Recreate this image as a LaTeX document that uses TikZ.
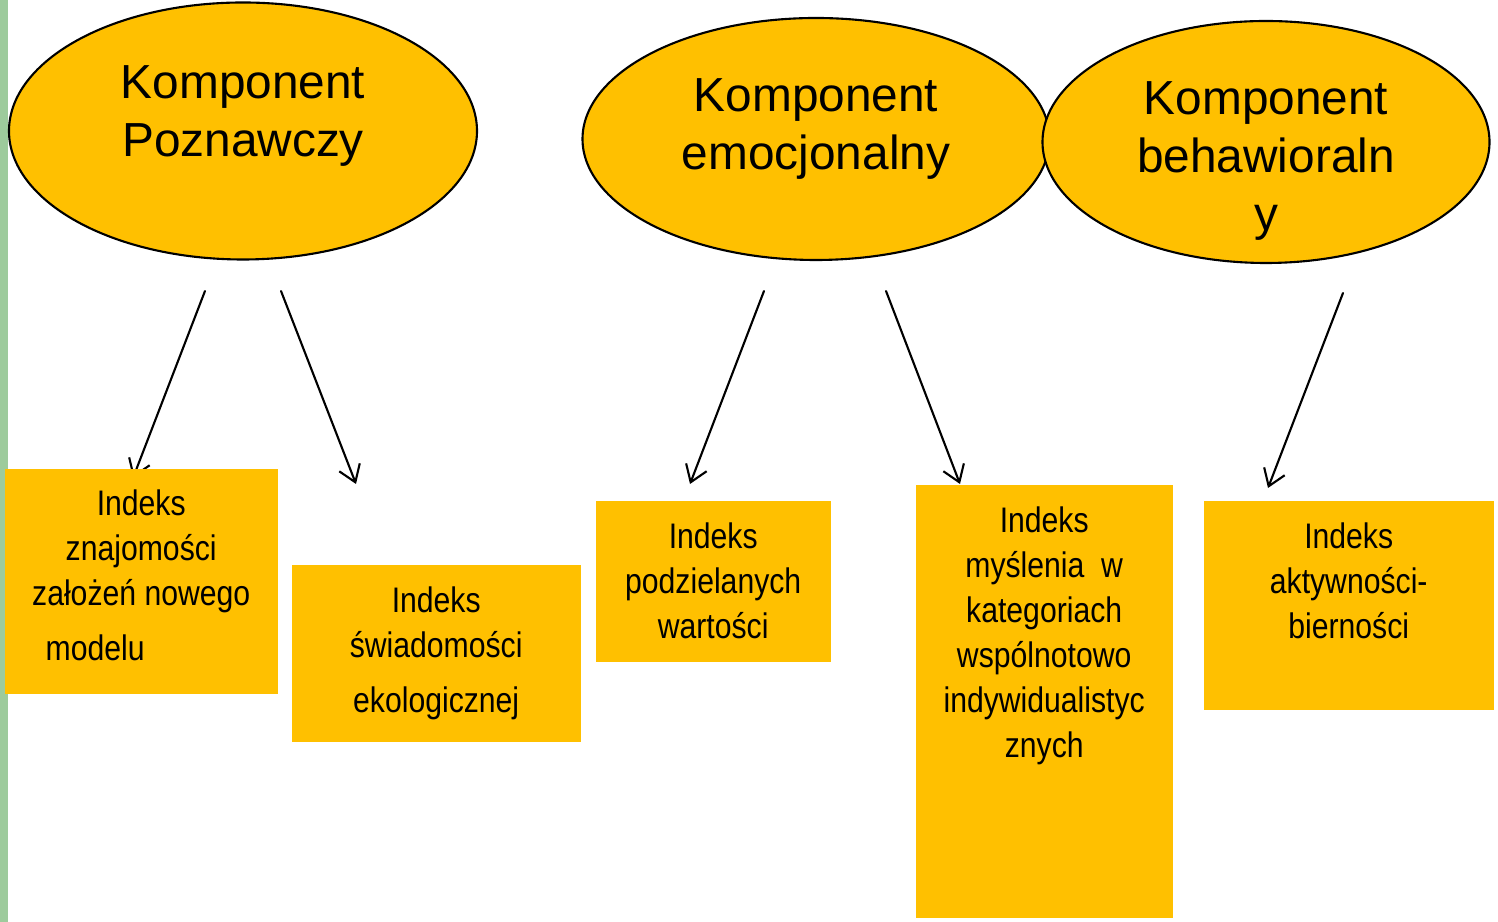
\documentclass[tikz,border=0pt]{standalone}
\usepackage{fontspec}
\setmainfont{Liberation Sans}
\newfontfamily\narrowfont[FakeStretch=0.85]{Liberation Sans}
\usetikzlibrary{positioning,shapes.geometric,arrows.meta,calc}
\definecolor{zloty}{HTML}{FFC000}
\definecolor{pasek}{HTML}{9DCB9C}
\begin{document}
\begin{tikzpicture}[line join=round,line cap=round,>={Straight Barb[length=0.16cm,width=0.22cm]},
	komp/.style={ellipse,draw=black,line width=0.6pt,fill=zloty,inner sep=0pt},
	komptxt/.style={align=center,inner sep=0pt,font=\fontsize{13.6}{16.5}\selectfont},
	indeks/.style={rectangle,fill=zloty,inner sep=0pt,anchor=north west},
	indtxt/.style={align=center,inner sep=0pt,font=\narrowfont\fontsize{10.1}{12.8}\selectfont},
	strz/.style={->,line width=0.6pt}]
	\useasboundingbox (0,0) rectangle (14.98,-9.22);
	\fill[pasek] (0,0) rectangle (0.08,-9.22);
	% komponenty
	\node[komp,minimum width=4.68cm,minimum height=2.57cm] (kp) at (2.43,-1.31) {};
	\node[komp,minimum width=4.67cm,minimum height=2.42cm] (ke) at (8.16,-1.39) {};
	\node[komp,minimum width=4.47cm,minimum height=2.42cm] (kb) at (12.66,-1.42) {};
	\node[komptxt] (tp) at ($(kp)+(0,0.15)$) {Komponent\\Poznawczy};
	\node[komptxt] (te) at ($(ke)+(0,0.1)$) {Komponent\\emocjonalny};
	\node[komptxt] (tb) at ($(kb)+(0,-0.19)$) {Komponent\\behawioraln\\y};
	% strzalki
	\coordinate (p1) at (2.05,-2.91); \coordinate (q1) at (1.33,-4.78);
	\coordinate (p2) at (2.81,-2.91); \coordinate (q2) at (3.56,-4.84);
	\coordinate (p3) at (7.64,-2.91); \coordinate (q3) at (6.90,-4.84);
	\coordinate (p4) at (8.86,-2.91); \coordinate (q4) at (9.60,-4.84);
	\coordinate (p5) at (13.43,-2.93); \coordinate (q5) at (12.68,-4.88);
	\foreach \i in {1,...,5} \draw[strz] (p\i)--(q\i);
	% indeksy
	\node[indeks,minimum width=2.73cm,minimum height=2.25cm] (i1) at (0.04,-4.68) {};
	\node[indeks,minimum width=2.89cm,minimum height=1.77cm] (i2) at (2.91,-5.64) {};
	\node[indeks,minimum width=2.35cm,minimum height=1.61cm] (i3) at (5.95,-5.00) {};
	\node[indeks,minimum width=2.57cm,minimum height=4.33cm] (i4) at (9.15,-4.84) {};
	\node[indeks,minimum width=2.90cm,minimum height=2.09cm] (i5) at (12.03,-5.00) {};
	\node[indtxt,below=0.21cm of i1.north] (n1) {Indeks\\znajomości\\założeń nowego\\[0.1cm]modelu\hspace*{0.92cm}};
	\node[indtxt,below=0.22cm of i2.north] (n2) {Indeks\\świadomości\\[0.1cm]ekologicznej};
	\node[indtxt,below=0.22cm of i3.north] (n3) {Indeks\\podzielanych\\wartości};
	\node[indtxt,below=0.22cm of i4.north] (n4) {Indeks\\myślenia~~w\\kategoriach\\wspólnotowo\\indywidualistyc\\znych};
	\node[indtxt,below=0.22cm of i5.north] (n5) {Indeks\\aktywności-\\bierności};
\end{tikzpicture}
\end{document}
